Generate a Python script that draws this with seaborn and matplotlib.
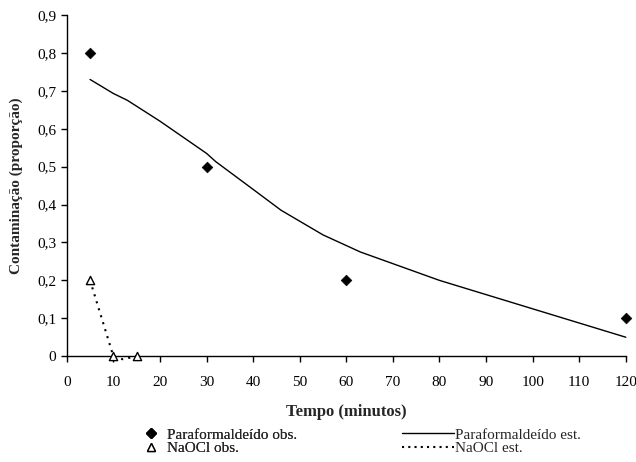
import matplotlib
matplotlib.use("Agg")
import matplotlib.pyplot as plt
import seaborn as sns
import pandas as pd
from matplotlib.lines import Line2D
from matplotlib.ticker import FuncFormatter, MultipleLocator

sns.set_theme(style="ticks")
plt.rcParams['font.family'] = ['Liberation Serif', 'DejaVu Serif']

# Observed data
para_obs_x = [5, 30, 60, 120]
para_obs_y = [0.8, 0.5, 0.2, 0.1]
naocl_obs_x = [5, 10, 15]
naocl_obs_y = [0.2, 0.0, 0.0]

# Estimated curves
para_est_x = [5, 10, 13, 20, 30, 32, 40, 46, 55, 63, 80, 100, 120]
para_est_y = [0.73, 0.693, 0.675, 0.62, 0.535, 0.513, 0.44, 0.385, 0.32, 0.275, 0.20, 0.125, 0.05]
naocl_est_x = [5, 7, 10, 12, 15]
naocl_est_y = [0.2, 0.12, 0.0, -0.008, 0.0]

fig = plt.figure(figsize=(6.36, 4.62), dpi=100)
ax = fig.add_axes([0.105, 0.229, 0.879, 0.7385])

sns.lineplot(x=para_est_x, y=para_est_y, ax=ax, color='black', lw=1.0, sort=False)
sns.lineplot(x=naocl_est_x, y=naocl_est_y, ax=ax, color='black', lw=1.5, linestyle=(0, (1, 2.5)), sort=False)
for ln in ax.lines:
    ln.set_clip_on(False)
sns.scatterplot(x=para_obs_x, y=para_obs_y, ax=ax, marker='D', s=30, color='black', edgecolor='black', zorder=5, clip_on=False)
sns.scatterplot(x=naocl_obs_x, y=naocl_obs_y, ax=ax, marker='^', s=35, facecolor='white', edgecolor='black', linewidth=1.0, zorder=5, clip_on=False)

ax.set_xlim(0, 120)
ax.set_ylim(0, 0.9)
ax.xaxis.set_major_locator(MultipleLocator(10))
ax.yaxis.set_major_locator(MultipleLocator(0.1))
ax.yaxis.set_major_formatter(FuncFormatter(lambda v, p: ('%g' % round(v, 1)).replace('.', ',')))
for s in ['top', 'right']:
    ax.spines[s].set_visible(False)
for s in ['left', 'bottom']:
    ax.spines[s].set_color('black')
    ax.spines[s].set_linewidth(1.0)
ax.tick_params(axis='both', colors='black', labelsize=11, length=4, width=1, direction='out')
ax.tick_params(axis='x', pad=10)
ax.set_xlabel('Tempo (minutos)', fontsize=12, fontweight='bold', labelpad=11)
ax.set_ylabel('Contaminação (proporção)', fontsize=11, fontweight='bold', labelpad=10)

h_obs = [Line2D([], [], marker='D', color='black', ls='none', markersize=5),
         Line2D([], [], marker='^', markerfacecolor='white', markeredgecolor='black', ls='none', markersize=6)]
h_est = [Line2D([], [], color='black', lw=1),
         Line2D([], [], color='black', lw=1.5, ls=(0, (1, 2)))]
leg1 = fig.legend(h_obs, ['Paraformaldeído obs.', 'NaOCl obs.'], loc='upper left',
                  bbox_to_anchor=(0.215, 0.09), frameon=False, fontsize=11,
                  handlelength=0.9, handletextpad=0.6, labelspacing=0.0, borderpad=0)
fig.add_artist(leg1)
fig.legend(h_est, ['Paraformaldeído est.', 'NaOCl est.'], loc='upper left',
           bbox_to_anchor=(0.62, 0.09), frameon=False, fontsize=11,
           handlelength=3.4, handletextpad=0.1, labelspacing=0.0, borderpad=0)

fig.savefig('out.png', dpi=100)
